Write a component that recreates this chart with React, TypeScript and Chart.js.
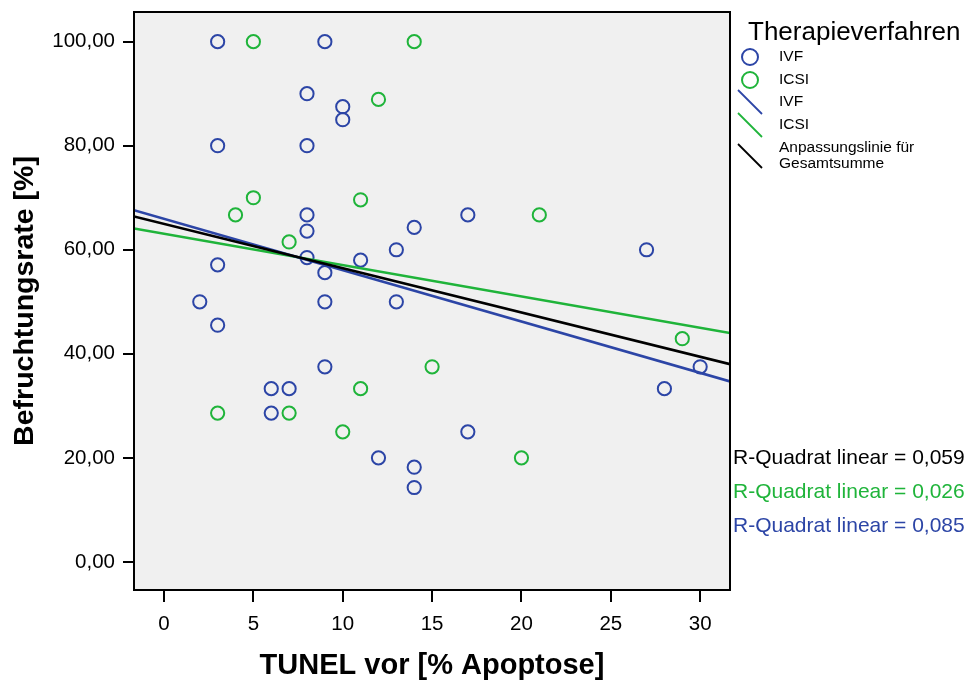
import React, { useEffect, useRef } from "react";
import { Chart, registerables } from "chart.js";

Chart.register(...registerables);

// IVF group: TUNEL vor [% Apoptose] vs. Befruchtungsrate [%]
const ivfX = [3, 9, 8, 10, 10, 3, 8, 8, 8, 17, 14, 13, 27, 8, 3, 11, 9, 2, 9, 13, 3, 30, 9, 28, 6, 7, 6, 17, 12, 14, 14];
const ivfY = [100, 100, 90, 87.5, 85, 80, 80, 66.7, 63.6, 66.7, 64.3, 60, 60, 58.5, 57.1, 58, 55.6, 50, 50, 50, 45.5, 37.5, 37.5, 33.3, 33.3, 33.3, 28.6, 25, 20, 18.2, 14.3];

// ICSI group
const icsiX = [5, 14, 12, 5, 4, 11, 7, 21, 3, 7, 11, 10, 15, 20, 29];
const icsiY = [100, 100, 88.9, 70, 66.7, 69.6, 61.5, 66.7, 28.6, 28.6, 33.3, 25, 37.5, 20, 42.9];

// Axis range and ticks
const xRange = [-1.68, 31.67];
const yRange = [-5.4, 105.7];
const xTicks = [0, 5, 10, 15, 20, 25, 30];
const yTicks = [0, 20, 40, 60, 80, 100];

// Fit lines (value at left and right end of x range)
const fitIVF = [67.6, 34.7];
const fitICSI = [64.1, 44.0];
const fitTotal = [66.4, 38.0];

const rSquared = ["0,059", "0,026", "0,085"];

const BLUE = "#2c45a6";
const GREEN = "#1fb43a";
const FONT = "'Liberation Sans', Arial, Helvetica, sans-serif";

const pts = (xs: number[], ys: number[]) => xs.map((x, i) => ({ x, y: ys[i] }));
const line = (ys: number[]) => [
  { x: xRange[0], y: ys[0] },
  { x: xRange[1], y: ys[1] },
];

const decorPlugin = {
  id: "decor",
  beforeDatasetsDraw(chart: any) {
    const { ctx, chartArea: a } = chart;
    ctx.save();
    ctx.fillStyle = "#f0f0f0";
    ctx.fillRect(a.left, a.top, a.right - a.left, a.bottom - a.top);
    ctx.restore();
  },
  afterDraw(chart: any) {
    const { ctx, chartArea: a } = chart;
    ctx.save();
    ctx.strokeStyle = "#000";
    ctx.lineWidth = 2;
    ctx.strokeRect(a.left, a.top, a.right - a.left, a.bottom - a.top);

    // Legend
    ctx.fillStyle = "#000";
    ctx.textAlign = "left";
    ctx.textBaseline = "alphabetic";
    ctx.font = `26px ${FONT}`;
    ctx.fillText("Therapieverfahren", 748, 40);

    ctx.lineWidth = 2;
    ctx.strokeStyle = BLUE;
    ctx.beginPath();
    ctx.arc(750, 57, 8, 0, Math.PI * 2);
    ctx.stroke();
    ctx.strokeStyle = GREEN;
    ctx.beginPath();
    ctx.arc(750, 80, 8, 0, Math.PI * 2);
    ctx.stroke();

    const seg = (c: string, y0: number) => {
      ctx.strokeStyle = c;
      ctx.lineWidth = 1.8;
      ctx.beginPath();
      ctx.moveTo(738, y0);
      ctx.lineTo(762, y0 + 24);
      ctx.stroke();
    };
    seg(BLUE, 90);
    seg(GREEN, 113);
    seg("#000", 144);

    ctx.font = `15.5px ${FONT}`;
    ctx.textBaseline = "middle";
    ctx.fillStyle = "#000";
    ctx.fillText("IVF", 779, 57);
    ctx.fillText("ICSI", 779, 80);
    ctx.fillText("IVF", 779, 102);
    ctx.fillText("ICSI", 779, 125);
    ctx.fillText("Anpassungslinie für", 779, 148);
    ctx.fillText("Gesamtsumme", 779, 164);

    // R-squared labels
    ctx.font = `21px ${FONT}`;
    const cols = ["#000", GREEN, BLUE];
    const ys = [458, 492, 526];
    rSquared.forEach((r, i) => {
      ctx.fillStyle = cols[i];
      ctx.fillText(`R-Quadrat linear = ${r}`, 733, ys[i]);
    });
    ctx.restore();
  },
};

export default function App() {
  const ref = useRef<HTMLCanvasElement | null>(null);
  useEffect(() => {
    if (!ref.current) return;
    const chart = new Chart(ref.current, {
      type: "scatter",
      data: {
        datasets: [
          {
            label: "Gesamt",
            data: line(fitTotal),
            showLine: true,
            borderColor: "#000",
            borderWidth: 2.6,
            pointRadius: 0,
            order: 0,
          },
          {
            label: "IVF fit",
            data: line(fitIVF),
            showLine: true,
            borderColor: BLUE,
            borderWidth: 2.6,
            pointRadius: 0,
            order: 1,
          },
          {
            label: "ICSI fit",
            data: line(fitICSI),
            showLine: true,
            borderColor: GREEN,
            borderWidth: 2.6,
            pointRadius: 0,
            order: 2,
          },
          {
            label: "IVF",
            data: pts(ivfX, ivfY),
            borderColor: BLUE,
            backgroundColor: "rgba(0,0,0,0)",
            borderWidth: 2,
            pointRadius: 6.6,
            order: 3,
          },
          {
            label: "ICSI",
            data: pts(icsiX, icsiY),
            borderColor: GREEN,
            backgroundColor: "rgba(0,0,0,0)",
            borderWidth: 2,
            pointRadius: 6.6,
            order: 4,
          },
        ],
      },
      options: {
        animation: false,
        responsive: false,
        devicePixelRatio: 1,
        layout: { autoPadding: false, padding: { top: 12, right: 238, left: 0, bottom: 0 } },
        plugins: { legend: { display: false }, tooltip: { enabled: false } },
        scales: {
          x: {
            type: "linear",
            min: xRange[0],
            max: xRange[1],
            afterBuildTicks: (s: any) => {
              s.ticks = xTicks.map((v) => ({ value: v }));
            },
            afterFit: (s: any) => {
              s.height = 90;
              s.paddingLeft = 0;
              s.paddingRight = 0;
            },
            border: { display: false },
            grid: {
              drawOnChartArea: false,
              drawTicks: true,
              tickLength: 12,
              color: "#000",
              lineWidth: 2,
            },
            ticks: {
              color: "#000",
              padding: 10,
              font: { family: FONT, size: 20.5 },
              maxRotation: 0,
              callback: (v: any) => String(v),
            },
            title: {
              display: true,
              text: "TUNEL vor [% Apoptose]",
              color: "#000",
              font: { family: FONT, size: 29, weight: "bold", lineHeight: 1 },
              padding: { top: 0, bottom: 0 },
            },
          },
          y: {
            type: "linear",
            min: yRange[0],
            max: yRange[1],
            afterBuildTicks: (s: any) => {
              s.ticks = yTicks.map((v) => ({ value: v }));
            },
            afterFit: (s: any) => {
              s.width = 134;
              s.paddingTop = 0;
              s.paddingBottom = 0;
            },
            border: { display: false },
            grid: {
              drawOnChartArea: false,
              drawTicks: true,
              tickLength: 11,
              color: "#000",
              lineWidth: 2,
            },
            ticks: {
              color: "#000",
              padding: 8,
              font: { family: FONT, size: 20.5 },
              callback: (v: any) => Number(v).toFixed(2).replace(".", ","),
            },
            title: {
              display: true,
              text: "Befruchtungsrate [%]",
              color: "#000",
              font: { family: FONT, size: 28.5, weight: "bold", lineHeight: 1 },
              padding: { top: 11, bottom: 0 },
            },
          },
        },
      },
      plugins: [decorPlugin],
    } as any);
    return () => chart.destroy();
  }, []);

  return (
    <div style={{ position: "absolute", left: 0, top: 0, width: 968, height: 680, background: "#fff" }}>
      <canvas ref={ref} width={968} height={680} style={{ display: "block" }} />
    </div>
  );
}
